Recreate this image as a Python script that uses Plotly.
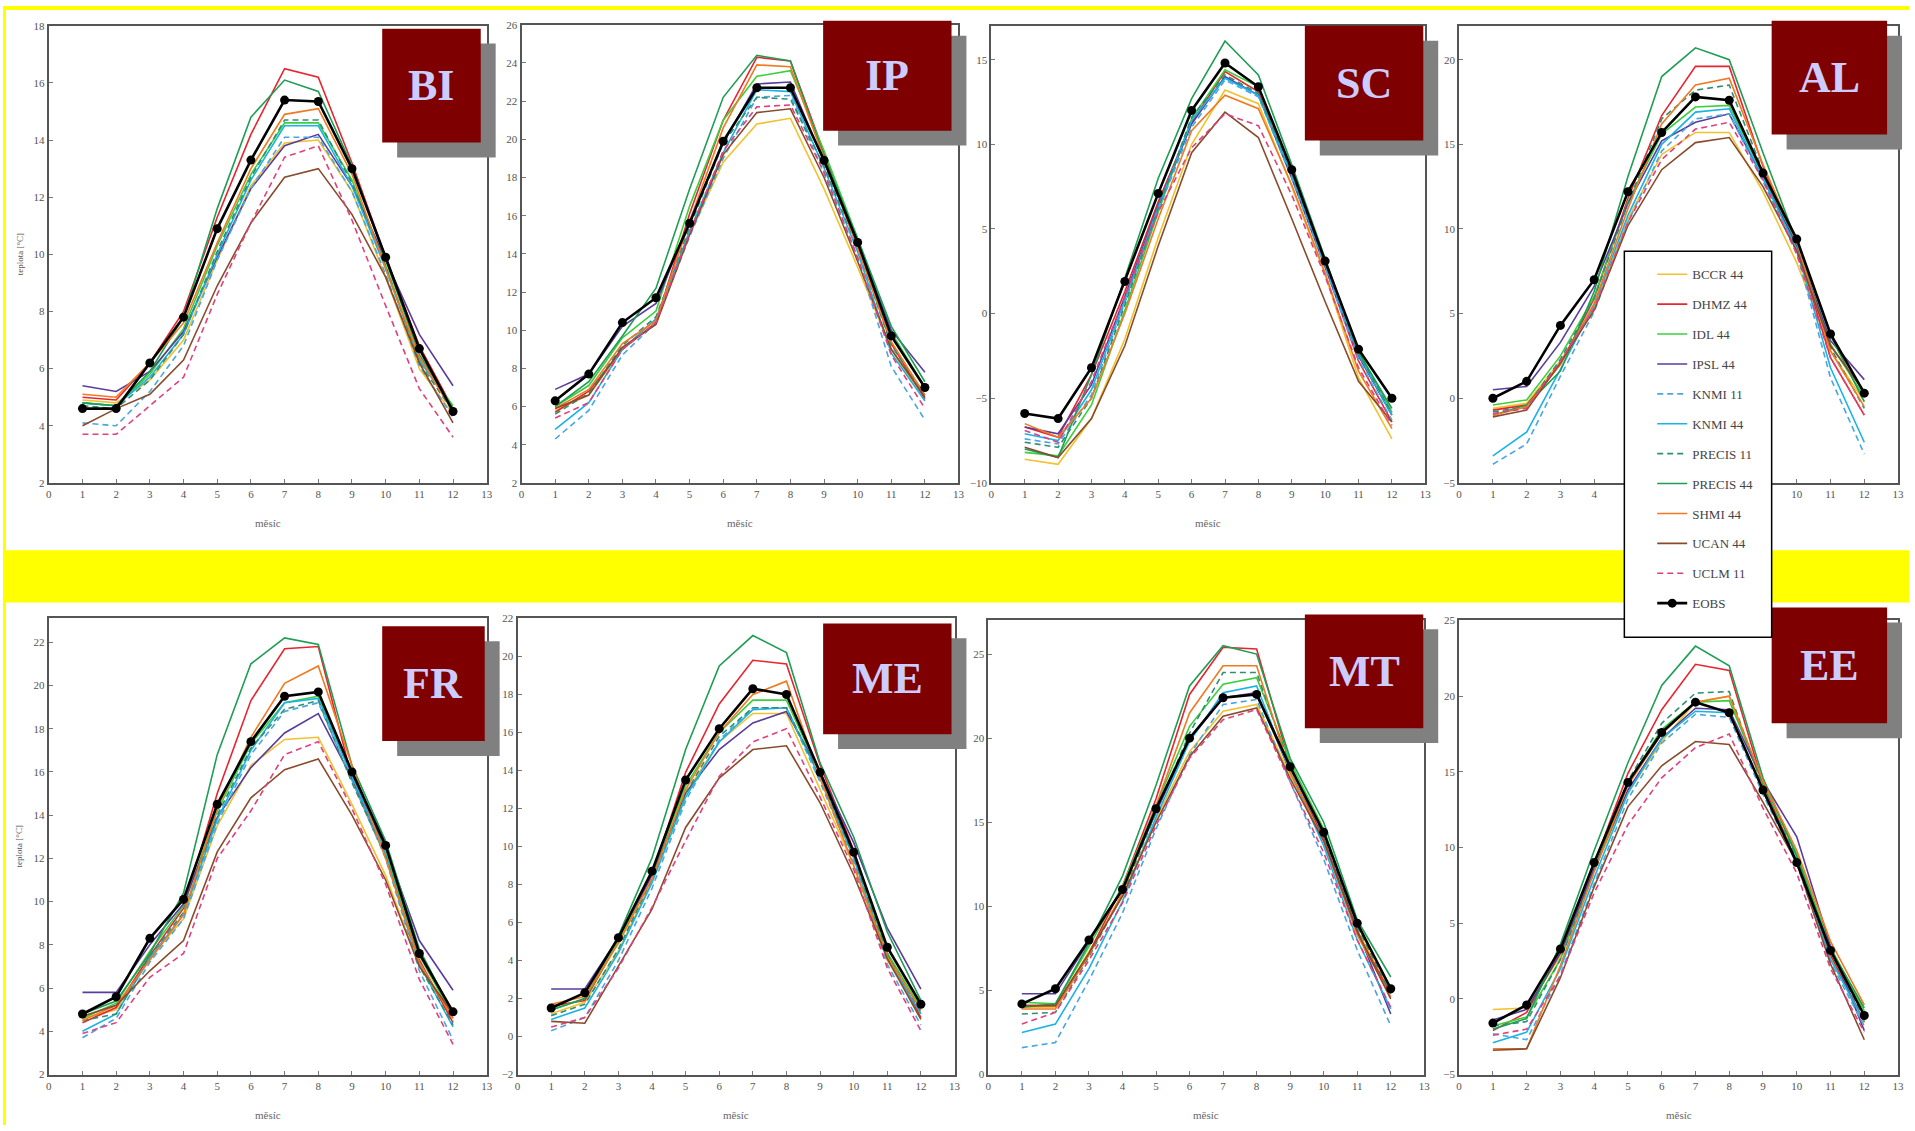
import plotly.graph_objects as go

W, H = 1915, 1131

months = list(range(1, 13))
x_ticks = list(range(0, 14))

series_names = ["BCCR 44", "DHMZ 44", "IDL 44", "IPSL 44", "KNMI 11", "KNMI 44",
                "PRECIS 11", "PRECIS 44", "SHMI 44", "UCAN 44", "UCLM 11", "EOBS"]

# ---- data: monthly mean temperature [°C], one list per model and region ----
BI = {
    "BCCR 44":   [4.9, 4.8, 5.6, 7.0, 9.8, 12.4, 13.9, 14.0, 12.2, 9.2, 6.0, 4.4],
    "DHMZ 44":   [5.0, 4.9, 6.2, 8.0, 11.3, 14.2, 16.5, 16.2, 13.2, 9.9, 6.8, 4.6],
    "IDL 44":    [4.8, 4.7, 5.8, 7.4, 10.3, 12.8, 14.6, 14.6, 12.6, 9.6, 6.3, 4.7],
    "IPSL 44":   [5.4, 5.2, 5.9, 7.3, 9.9, 12.3, 13.8, 14.2, 12.4, 9.8, 7.2, 5.4],
    "KNMI 11":   [4.1, 4.0, 5.2, 6.8, 9.8, 12.3, 14.1, 14.1, 12.2, 9.3, 6.1, 4.3],
    "KNMI 44":   [4.8, 4.7, 5.7, 7.2, 10.0, 12.6, 14.5, 14.5, 12.4, 9.5, 6.3, 4.6],
    "PRECIS 11": [4.7, 4.6, 5.6, 7.2, 10.1, 12.7, 14.7, 14.7, 12.5, 9.6, 6.2, 4.5],
    "PRECIS 44": [4.8, 4.7, 5.9, 7.8, 11.6, 14.8, 16.1, 15.7, 13.1, 9.8, 6.5, 4.6],
    "SHMI 44":   [5.1, 5.0, 6.2, 7.6, 10.4, 13.0, 14.9, 15.1, 12.8, 9.5, 6.4, 4.5],
    "UCAN 44":   [4.0, 4.6, 5.1, 6.3, 8.9, 11.1, 12.7, 13.0, 11.4, 9.2, 6.2, 4.1],
    "UCLM 11":   [3.7, 3.7, 4.7, 5.7, 8.6, 11.1, 13.4, 13.8, 11.2, 8.2, 5.3, 3.6],
    "EOBS":      [4.6, 4.6, 6.2, 7.8, 10.9, 13.3, 15.4, 15.35, 13.0, 9.9, 6.7, 4.5],
}
IP = {
    "BCCR 44":   [5.8, 6.6, 9.0, 10.6, 15.0, 18.8, 20.8, 21.1, 17.4, 13.3, 9.0, 6.3],
    "DHMZ 44":   [5.7, 6.8, 9.0, 10.4, 16.1, 21.0, 24.3, 24.1, 19.3, 14.4, 9.3, 6.4],
    "IDL 44":    [6.0, 7.1, 9.6, 11.0, 16.5, 21.0, 23.3, 23.6, 19.4, 14.8, 9.9, 7.0],
    "IPSL 44":   [6.9, 7.7, 10.2, 11.4, 15.7, 19.8, 22.9, 23.0, 18.8, 14.6, 10.0, 7.8],
    "KNMI 11":   [4.3, 5.8, 8.7, 10.4, 14.9, 19.0, 22.2, 22.3, 18.2, 13.8, 8.1, 5.3],
    "KNMI 44":   [4.8, 6.2, 9.0, 10.6, 15.2, 19.3, 22.6, 22.5, 18.5, 14.1, 8.8, 6.3],
    "PRECIS 11": [5.6, 6.7, 9.2, 10.7, 15.4, 19.8, 22.2, 22.1, 18.6, 14.3, 9.2, 6.6],
    "PRECIS 44": [6.0, 7.3, 9.7, 12.2, 17.4, 22.2, 24.4, 24.1, 19.1, 14.8, 10.2, 7.3],
    "SHMI 44":   [5.9, 6.9, 9.3, 10.5, 15.7, 20.6, 23.9, 23.8, 19.0, 14.3, 9.4, 6.6],
    "UCAN 44":   [5.9, 6.6, 9.1, 10.3, 15.0, 19.2, 21.4, 21.6, 18.0, 13.6, 9.0, 6.5],
    "UCLM 11":   [5.4, 6.2, 9.0, 10.4, 15.1, 19.4, 21.7, 21.8, 18.3, 13.8, 8.7, 5.9],
    "EOBS":      [6.3, 7.7, 10.4, 11.7, 15.6, 19.9, 22.7, 22.7, 18.9, 14.6, 9.7, 7.0],
}
SC = {
    "BCCR 44":   [-8.6, -8.9, -6.2, -1.5, 4.5, 10.0, 13.2, 12.4, 7.5, 2.3, -3.8, -7.4],
    "DHMZ 44":   [-6.7, -7.3, -3.6, 1.3, 6.6, 11.3, 14.3, 13.1, 8.1, 2.8, -2.8, -6.4],
    "IDL 44":    [-8.2, -8.4, -5.4, 0.2, 6.0, 11.5, 14.4, 13.4, 8.4, 3.0, -2.2, -5.8],
    "IPSL 44":   [-6.7, -7.1, -4.2, 1.0, 6.4, 11.2, 14.0, 12.9, 8.0, 2.8, -2.5, -6.0],
    "KNMI 11":   [-7.4, -7.7, -4.8, 0.6, 6.1, 11.0, 13.8, 12.8, 8.0, 2.7, -2.7, -6.3],
    "KNMI 44":   [-7.1, -7.5, -4.5, 0.8, 6.3, 11.4, 13.9, 12.9, 8.2, 2.9, -2.4, -6.0],
    "PRECIS 11": [-7.6, -7.9, -5.0, 0.5, 6.2, 11.6, 14.1, 13.0, 8.3, 3.0, -2.3, -5.9],
    "PRECIS 44": [-8.0, -8.5, -3.6, 2.1, 8.0, 12.7, 16.1, 14.1, 8.8, 3.2, -2.3, -5.6],
    "SHMI 44":   [-6.5, -7.3, -5.0, 0.0, 5.6, 10.8, 12.9, 12.1, 7.6, 2.4, -3.4, -6.8],
    "UCAN 44":   [-7.9, -8.5, -6.2, -1.9, 4.0, 9.5, 11.9, 10.4, 5.6, 0.7, -4.0, -6.4],
    "UCLM 11":   [-6.9, -7.6, -4.0, 1.0, 6.0, 9.8, 11.8, 11.1, 7.0, 2.2, -3.2, -6.6],
    "EOBS":      [-5.9, -6.2, -3.2, 1.9, 7.1, 12.0, 14.8, 13.4, 8.5, 3.1, -2.1, -5.0],
}
AL = {
    "BCCR 44":   [-0.6, -0.3, 2.2, 5.3, 10.6, 14.4, 15.7, 15.7, 12.2, 8.0, 2.8, -0.2],
    "DHMZ 44":   [-0.7, -0.4, 2.0, 5.9, 11.8, 16.7, 19.6, 19.6, 13.7, 9.0, 2.4, -1.0],
    "IDL 44":    [-0.4, -0.1, 2.5, 6.0, 11.6, 15.6, 17.2, 17.3, 13.2, 9.1, 3.2, 0.1],
    "IPSL 44":   [0.5, 0.7, 3.3, 6.6, 11.5, 15.2, 16.3, 16.8, 13.0, 9.0, 3.4, 1.1],
    "KNMI 11":   [-3.9, -2.7, 1.3, 5.1, 10.4, 14.6, 16.5, 16.8, 12.8, 8.6, 1.2, -3.3],
    "KNMI 44":   [-3.4, -2.0, 1.7, 5.5, 10.8, 15.0, 16.9, 17.1, 13.0, 8.8, 1.8, -2.6],
    "PRECIS 11": [-0.8, -0.5, 2.3, 5.9, 11.5, 16.5, 18.2, 18.5, 13.4, 9.1, 3.0, -0.6],
    "PRECIS 44": [-1.0, -0.4, 1.6, 6.3, 13.1, 19.0, 20.7, 20.0, 14.5, 9.2, 3.7, -0.2],
    "SHMI 44":   [-1.0, -0.5, 2.0, 5.6, 11.2, 16.2, 18.5, 18.9, 13.8, 9.2, 2.8, -0.5],
    "UCAN 44":   [-1.1, -0.7, 2.1, 5.2, 10.2, 13.5, 15.1, 15.4, 12.5, 8.7, 3.1, 0.4],
    "UCLM 11":   [-0.9, -0.6, 2.2, 5.3, 10.4, 14.1, 15.9, 16.3, 12.9, 8.5, 2.4, -1.0],
    "EOBS":      [0.0, 1.0, 4.3, 7.0, 12.2, 15.7, 17.8, 17.6, 13.3, 9.4, 3.8, 0.3],
}
FR = {
    "BCCR 44":   [4.6, 5.0, 7.4, 9.2, 13.5, 16.3, 17.5, 17.6, 14.5, 11.2, 7.0, 4.6],
    "DHMZ 44":   [4.4, 5.1, 7.5, 9.7, 15.0, 19.3, 21.7, 21.8, 15.7, 12.1, 7.3, 4.4],
    "IDL 44":    [4.6, 5.3, 7.7, 9.8, 14.2, 17.3, 19.2, 19.5, 15.8, 12.3, 7.5, 4.7],
    "IPSL 44":   [5.8, 5.8, 8.0, 9.9, 13.9, 16.2, 17.8, 18.7, 15.7, 12.5, 8.2, 5.9],
    "KNMI 11":   [3.7, 4.6, 7.2, 9.2, 13.6, 16.8, 18.8, 19.2, 15.6, 12.0, 6.8, 3.6],
    "KNMI 44":   [4.0, 4.8, 7.4, 9.4, 13.8, 17.0, 19.2, 19.4, 15.8, 12.2, 7.1, 4.2],
    "PRECIS 11": [4.5, 4.8, 7.5, 9.5, 14.0, 17.1, 18.9, 19.3, 15.5, 12.1, 7.0, 4.3],
    "PRECIS 44": [4.8, 5.4, 7.6, 10.4, 16.8, 21.0, 22.2, 21.9, 16.3, 12.8, 7.8, 4.8],
    "SHMI 44":   [4.5, 5.2, 7.3, 9.4, 14.3, 17.6, 20.1, 20.9, 16.3, 12.0, 7.2, 4.6],
    "UCAN 44":   [4.7, 5.2, 6.8, 8.2, 12.3, 14.8, 16.1, 16.6, 14.0, 11.0, 7.0, 4.8],
    "UCLM 11":   [3.9, 4.4, 6.5, 7.6, 12.0, 14.2, 16.8, 17.4, 14.3, 10.8, 6.4, 3.4],
    "EOBS":      [4.8, 5.6, 8.3, 10.1, 14.5, 17.4, 19.5, 19.7, 16.0, 12.6, 7.6, 4.9],
}
ME = {
    "BCCR 44":   [1.2, 1.8, 4.5, 8.2, 12.8, 15.5, 17.0, 17.0, 13.0, 9.0, 4.0, 1.2],
    "DHMZ 44":   [1.6, 1.9, 5.0, 8.5, 13.9, 17.5, 19.8, 19.6, 14.3, 9.8, 4.4, 1.0],
    "IDL 44":    [1.4, 2.0, 5.0, 8.6, 13.2, 16.0, 17.7, 17.7, 13.8, 9.6, 4.4, 1.5],
    "IPSL 44":   [2.5, 2.5, 5.2, 8.5, 12.8, 15.1, 16.5, 17.1, 13.9, 10.2, 5.7, 2.5],
    "KNMI 11":   [0.3, 1.0, 4.0, 7.8, 12.4, 15.6, 17.3, 17.3, 13.4, 9.2, 3.8, 0.6],
    "KNMI 44":   [0.9, 1.5, 4.4, 8.1, 12.6, 15.5, 17.2, 17.3, 13.6, 9.4, 4.1, 1.2],
    "PRECIS 11": [1.1, 1.7, 4.6, 8.3, 12.8, 15.8, 17.3, 17.3, 13.7, 9.5, 4.3, 1.3],
    "PRECIS 44": [1.4, 2.0, 5.3, 9.4, 15.1, 19.5, 21.1, 20.2, 14.4, 10.5, 5.5, 1.9],
    "SHMI 44":   [1.7, 2.1, 4.9, 8.3, 13.0, 16.0, 18.0, 18.7, 13.6, 9.0, 4.2, 1.4],
    "UCAN 44":   [0.8, 0.7, 3.7, 6.7, 11.0, 13.6, 15.1, 15.3, 12.3, 8.5, 4.1, 0.9],
    "UCLM 11":   [0.5, 1.0, 3.6, 6.8, 10.3, 13.7, 15.5, 16.2, 12.6, 8.8, 3.6, 0.3],
    "EOBS":      [1.5, 2.3, 5.2, 8.7, 13.5, 16.2, 18.3, 18.0, 13.9, 9.7, 4.7, 1.7],
}
MT = {
    "BCCR 44":   [4.0, 4.0, 7.3, 10.6, 15.2, 19.2, 21.6, 22.0, 17.8, 13.8, 8.6, 4.9],
    "DHMZ 44":   [4.1, 4.1, 7.2, 11.2, 16.4, 22.6, 25.4, 25.3, 18.4, 14.0, 8.4, 4.8],
    "IDL 44":    [4.3, 4.2, 7.6, 11.2, 16.0, 20.7, 23.2, 23.6, 18.6, 14.6, 8.9, 5.2],
    "IPSL 44":   [4.8, 4.8, 7.9, 11.0, 15.6, 19.9, 22.4, 22.7, 18.0, 14.0, 8.6, 3.6],
    "KNMI 11":   [1.6, 1.9, 5.6, 9.6, 14.6, 19.0, 22.0, 22.3, 17.4, 12.8, 7.4, 2.9],
    "KNMI 44":   [2.5, 3.0, 6.3, 10.3, 15.3, 19.8, 22.7, 23.1, 18.0, 13.6, 8.0, 3.9],
    "PRECIS 11": [3.6, 3.7, 7.0, 10.7, 15.6, 20.3, 23.9, 23.9, 18.3, 14.2, 8.8, 4.8],
    "PRECIS 44": [4.0, 4.2, 7.8, 11.8, 17.2, 23.1, 25.5, 25.0, 18.8, 15.0, 9.2, 5.8],
    "SHMI 44":   [3.9, 3.9, 7.1, 10.8, 16.0, 21.5, 24.3, 24.3, 18.0, 13.9, 8.3, 4.6],
    "UCAN 44":   [4.1, 4.1, 7.2, 10.6, 15.0, 18.9, 21.3, 21.8, 17.6, 13.9, 8.5, 4.5],
    "UCLM 11":   [3.0, 3.7, 6.8, 10.2, 14.8, 18.8, 21.1, 21.7, 17.4, 13.2, 8.0, 4.0],
    "EOBS":      [4.2, 5.1, 8.0, 11.0, 15.8, 20.0, 22.4, 22.6, 18.3, 14.4, 9.0, 5.1],
}
EE = {
    "BCCR 44":   [-0.7, -0.6, 2.8, 8.5, 13.6, 17.0, 19.6, 20.0, 14.0, 9.5, 2.8, -1.6],
    "DHMZ 44":   [-2.1, -0.9, 3.1, 8.9, 14.9, 19.1, 22.1, 21.7, 14.2, 9.0, 2.9, -1.5],
    "IDL 44":    [-1.8, -1.2, 2.6, 8.6, 14.3, 17.8, 19.6, 19.7, 14.3, 9.6, 3.4, -0.8],
    "IPSL 44":   [-1.4, -0.7, 3.0, 8.6, 13.8, 17.2, 19.2, 19.1, 14.4, 10.7, 3.5, -2.1],
    "KNMI 11":   [-2.3, -2.7, 1.6, 7.6, 13.2, 16.9, 18.8, 18.6, 13.5, 8.9, 2.4, -1.8],
    "KNMI 44":   [-2.9, -2.2, 2.0, 8.0, 13.6, 17.2, 19.0, 18.9, 13.7, 9.1, 2.6, -1.5],
    "PRECIS 11": [-1.8, -1.5, 2.6, 8.4, 14.4, 18.2, 20.2, 20.3, 14.0, 9.3, 3.1, -1.3],
    "PRECIS 44": [-2.0, -1.3, 3.6, 9.8, 15.6, 20.7, 23.3, 22.0, 14.6, 9.4, 3.3, -0.6],
    "SHMI 44":   [-3.3, -3.3, 2.2, 8.4, 14.1, 17.5, 19.6, 20.0, 14.4, 9.8, 3.8, -0.4],
    "UCAN 44":   [-3.4, -3.3, 1.4, 7.4, 12.7, 15.4, 17.0, 16.8, 13.0, 9.0, 2.3, -2.7],
    "UCLM 11":   [-2.4, -2.0, 1.5, 7.0, 11.5, 14.6, 16.6, 17.5, 12.6, 8.3, 2.0, -2.2],
    "EOBS":      [-1.6, -0.4, 3.3, 9.0, 14.3, 17.6, 19.6, 18.9, 13.8, 9.0, 3.2, -1.1],
}

region_labels = ["BI", "IP", "SC", "AL", "FR", "ME", "MT", "EE"]
region_data = [BI, IP, SC, AL, FR, ME, MT, EE]
y_ranges = [[2, 18], [2, 26], [-10, 17], [-5, 22], [2, 23.1], [-2, 22], [0, 27], [-5, 25]]
y_dticks = [2, 2, 5, 5, 2, 2, 5, 5]

# ---- styles ----
colors = {
    "BCCR 44": "#f2c12e", "DHMZ 44": "#e8252f", "IDL 44": "#3ccf3c", "IPSL 44": "#5a3c9c",
    "KNMI 11": "#4aa6e0", "KNMI 44": "#19b3e6", "PRECIS 11": "#2f8f73", "PRECIS 44": "#1f9d55",
    "SHMI 44": "#f07a22", "UCAN 44": "#8a4b2c", "UCLM 11": "#e0407d", "EOBS": "#000000",
}
dashed = {"KNMI 11", "PRECIS 11", "UCLM 11"}

# plot-area rectangles in pixels: (left, top, right, bottom)
plot_px = [
    (46, 20, 486, 482), (521, 19, 960, 482), (993, 20, 1429, 482), (1463, 20, 1904, 482),
    (46, 619, 486, 1080), (517, 619, 956, 1080), (990, 621, 1428, 1080), (1463, 621, 1904, 1080),
]
label_px = [
    (381, 23, 480, 138), (824, 15, 953, 126), (1308, 20, 1427, 136), (1777, 15, 1893, 130),
    (381, 627, 484, 743), (824, 624, 953, 736), (1308, 615, 1427, 730), (1777, 608, 1893, 725),
]
legend_box_px = (1629, 248, 1777, 638)

def fx(px):
    return px / W

def fy(py):
    return 1 - py / H

SERIF = "Liberation Serif, Times New Roman, serif"

fig = go.Figure()
layout = dict(
    width=W, height=H, autosize=False,
    margin=dict(l=0, r=0, t=0, b=0),
    paper_bgcolor="white", plot_bgcolor="white",
    showlegend=True,
)

shapes = []
annotations = []

# yellow background strips
shapes.append(dict(type="rect", xref="paper", yref="paper", x0=0, x1=1, y0=fy(4), y1=1,
                   fillcolor="#ffff00", line=dict(width=0), layer="below"))
shapes.append(dict(type="rect", xref="paper", yref="paper", x0=0, x1=fx(3), y0=0, y1=1,
                   fillcolor="#ffff00", line=dict(width=0), layer="below"))
shapes.append(dict(type="rect", xref="paper", yref="paper", x0=0, x1=1, y0=fy(603), y1=fy(550),
                   fillcolor="#ffff00", line=dict(width=0), layer="below"))

lx0, ly0, lx1, ly1 = legend_box_px

for i, (lab, data) in enumerate(zip(region_labels, region_data)):
    n = i + 1
    xa = "xaxis" if n == 1 else f"xaxis{n}"
    ya = "yaxis" if n == 1 else f"yaxis{n}"
    xr = "x" if n == 1 else f"x{n}"
    yr = "y" if n == 1 else f"y{n}"
    l, t, r, b = plot_px[i]
    axis_common = dict(
        showline=True, mirror=True, linecolor="#555555", linewidth=2,
        showgrid=False, zeroline=False, ticks="inside", ticklen=4, tickcolor="#777777",
        tickfont=dict(family=SERIF, size=11, color="#555555"),
    )
    layout[xa] = dict(domain=[fx(l), fx(r)], anchor=yr, range=[0, 13],
                      tickmode="array", tickvals=x_ticks, **axis_common)
    layout[ya] = dict(domain=[fy(b), fy(t)], anchor=xr, range=y_ranges[i],
                      dtick=y_dticks[i], tick0=0, **axis_common)

    for name in series_names:
        is_obs = name == "EOBS"
        fig.add_trace(go.Scatter(
            x=months, y=data[name], name=name, xaxis=xr, yaxis=yr,
            mode="lines+markers" if is_obs else "lines",
            line=dict(color=colors[name], width=2.6 if is_obs else 1.6,
                      dash="6px,4px" if name in dashed else "solid"),
            marker=dict(size=9, color="#000000") if is_obs else None,
            showlegend=(i == 0), legendgroup=name,
        ))

    # x-axis title (skipped where the legend box hides it)
    cx = (l + r) / 2
    ty = b + 41
    if not (lx0 <= cx <= lx1 and ly0 <= ty <= ly1):
        annotations.append(dict(xref="paper", yref="paper", x=fx(cx),
                                y=fy(ty), text="měsíc", showarrow=False,
                                font=dict(family=SERIF, size=11, color="#666666"),
                                xanchor="center", yanchor="middle"))
    # y-axis title only visible on the left column
    if l < 100:
        annotations.append(dict(xref="paper", yref="paper", x=fx(17), y=fy((t + b) / 2),
                                text="teplota [°C]", textangle=-90, showarrow=False,
                                font=dict(family=SERIF, size=9, color="#555555"),
                                xanchor="center", yanchor="middle"))

    # region label box with shadow
    bx0, by0, bx1, by1 = label_px[i]
    off = 15
    shapes.append(dict(type="rect", xref="paper", yref="paper",
                       x0=fx(bx0 + off), x1=fx(bx1 + off), y0=fy(by1 + off), y1=fy(by0 + off),
                       fillcolor="#808080", line=dict(width=0), layer="above"))
    shapes.append(dict(type="rect", xref="paper", yref="paper",
                       x0=fx(bx0), x1=fx(bx1), y0=fy(by1), y1=fy(by0),
                       fillcolor="#7f0000", line=dict(width=0), layer="above"))
    annotations.append(dict(xref="paper", yref="paper", x=fx((bx0 + bx1) / 2),
                            y=fy((by0 + by1) / 2), text=f"<b>{lab}</b>", showarrow=False,
                            font=dict(family=SERIF, size=44, color="#ccccff"),
                            xanchor="center", yanchor="middle"))

# legend frame
shapes.append(dict(type="rect", xref="paper", yref="paper",
                   x0=fx(lx0), x1=fx(lx1), y0=fy(ly1), y1=fy(ly0),
                   fillcolor="white", line=dict(color="#000000", width=1.5), layer="above"))

layout["shapes"] = shapes
layout["annotations"] = annotations
layout["legend"] = dict(
    x=fx(1657), y=fy(256), xanchor="left", yanchor="top",
    bgcolor="rgba(0,0,0,0)", borderwidth=0,
    font=dict(family=SERIF, size=13, color="#444444"),
    traceorder="grouped", tracegroupgap=10, itemwidth=30,
)

fig.update_layout(**layout)
fig.write_html("out.html")
